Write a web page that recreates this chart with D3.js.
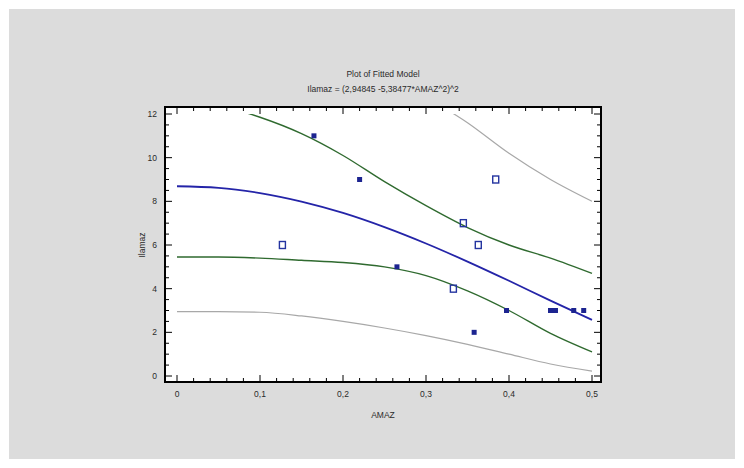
<!DOCTYPE html>
<html>
<head>
<meta charset="utf-8">
<script src="https://cdn.jsdelivr.net/npm/d3@7"></script>
<style>
  body { margin: 0; background: #fff; }
  text { font-family: "Liberation Sans", Arial, sans-serif; fill: #2a2a2a; }
</style>
</head>
<body>
<svg id="chart" width="744" height="468"></svg>
<script>
// curve samples
var xs = [0, 0.05, 0.1, 0.15, 0.2, 0.25, 0.3, 0.35, 0.4, 0.45, 0.5];
var fitted = [8.69, 8.62, 8.38, 7.99, 7.47, 6.82, 6.07, 5.24, 4.36, 3.45, 2.57];
var confUpper = [12.7, 12.4, 11.85, 11.1, 10.1, 8.9, 7.8, 6.8, 6.0, 5.4, 4.7];
var confLower = [5.45, 5.45, 5.4, 5.3, 5.2, 5.0, 4.6, 3.9, 3.0, 1.95, 1.1];
var predUpper = [17.4, 17.2, 16.8, 16.1, 15.2, 14.1, 12.8, 11.6, 10.2, 9.0, 8.0];
var predLower = [2.95, 2.95, 2.92, 2.75, 2.5, 2.2, 1.85, 1.45, 1.0, 0.55, 0.22];

// observations
var openX = [0.127, 0.333, 0.345, 0.363, 0.384];
var openY = [6, 4, 7, 6, 9];
var solidX = [0.165, 0.22, 0.265, 0.358, 0.397, 0.45, 0.456, 0.478, 0.49];
var solidY = [11, 9, 5, 2, 3, 3, 3, 3, 3];

var xTicks = [0, 0.1, 0.2, 0.3, 0.4, 0.5];
var yTicks = [0, 2, 4, 6, 8, 10, 12];

var svg = d3.select("#chart");
var frame = {left: 165, right: 601, top: 107, bottom: 382};

var x = d3.scaleLinear().domain([0, 0.5]).range([177, 592]);
var y = d3.scaleLinear().domain([0, 12]).range([376, 114]);
var fmt = function(d) { return d === 0 ? "0" : d3.format(".1f")(d).replace(".", ","); };

// grey panel with a thin white margin
svg.append("rect")
    .attr("x", 9).attr("y", 9)
    .attr("width", 726).attr("height", 450)
    .attr("fill", "#dcdcdc");

svg.append("text")
    .attr("x", 383).attr("y", 77)
    .attr("text-anchor", "middle")
    .style("font-size", "8.5px")
    .text("Plot of Fitted Model");
svg.append("text")
    .attr("x", 383).attr("y", 92)
    .attr("text-anchor", "middle")
    .style("font-size", "8.5px")
    .text("Ilamaz = (2,94845 -5,38477*AMAZ^2)^2");

// curves are cut at the axis limits, not at the frame
svg.append("clipPath").attr("id", "clip")
  .append("rect")
    .attr("x", x(0) - 4).attr("y", y(12))
    .attr("width", x(0.5) - x(0) + 8)
    .attr("height", y(0) - y(12));

svg.append("rect")
    .attr("x", frame.left).attr("y", frame.top)
    .attr("width", frame.right - frame.left)
    .attr("height", frame.bottom - frame.top)
    .attr("fill", "#fff");

var plot = svg.append("g").attr("clip-path", "url(#clip)");

function curve(vals, color, width) {
  var line = d3.line()
      .x(function(d, i) { return x(xs[i]); })
      .y(function(d) { return y(d); })
      .curve(d3.curveMonotoneX);
  plot.append("path")
      .attr("d", line(vals))
      .attr("fill", "none")
      .attr("stroke", color)
      .attr("stroke-width", width);
}

curve(predUpper, "#a8a8a8", 1.2);
curve(predLower, "#a8a8a8", 1.2);
curve(confUpper, "#2f6a2f", 1.4);
curve(confLower, "#2f6a2f", 1.4);
curve(fitted, "#2424a8", 1.8);

var marks = svg.append("g");

marks.selectAll("rect.open").data(d3.zip(openX, openY))
  .join("rect")
    .classed("open", true)
    .attr("x", function(d) { return x(d[0]) - 3; })
    .attr("y", function(d) { return y(d[1]) - 3.5; })
    .attr("width", 6).attr("height", 7)
    .attr("fill", "none")
    .attr("stroke", "#2434a0")
    .attr("stroke-width", 1.4);

marks.selectAll("rect.solid").data(d3.zip(solidX, solidY))
  .join("rect")
    .classed("solid", true)
    .attr("x", function(d) { return x(d[0]) - 2.5; })
    .attr("y", function(d) { return y(d[1]) - 2.5; })
    .attr("width", 5).attr("height", 5)
    .attr("fill", "#1c2490");

// axes: ticks drawn inward on all four sides
var minorX = d3.range(0, 0.501, 0.02);
var minorY = d3.range(0, 12.01, 0.5);
var ax = svg.append("g").attr("stroke", "#000");

ax.selectAll("line.bx").data(minorX).join("line")
    .attr("x1", x).attr("x2", x)
    .attr("y1", frame.bottom)
    .attr("y2", function(d, i) { return frame.bottom - (i % 5 === 0 ? 7 : 4); });
ax.selectAll("line.tx").data(minorX).join("line")
    .attr("x1", x).attr("x2", x)
    .attr("y1", frame.top)
    .attr("y2", function(d, i) { return frame.top + (i % 5 === 0 ? 7 : 4); });
ax.selectAll("line.ly").data(minorY).join("line")
    .attr("y1", y).attr("y2", y)
    .attr("x1", frame.left)
    .attr("x2", function(d, i) { return frame.left + (i % 4 === 0 ? 7 : 4); });
ax.selectAll("line.ry").data(minorY).join("line")
    .attr("y1", y).attr("y2", y)
    .attr("x1", frame.right)
    .attr("x2", function(d, i) { return frame.right - (i % 4 === 0 ? 7 : 4); });

svg.append("rect")
    .attr("x", frame.left).attr("y", frame.top)
    .attr("width", frame.right - frame.left)
    .attr("height", frame.bottom - frame.top)
    .attr("fill", "none")
    .attr("stroke", "#000")
    .attr("stroke-width", 2);

svg.selectAll("text.xt").data(xTicks).join("text")
    .attr("x", x).attr("y", 397)
    .attr("text-anchor", "middle")
    .style("font-size", "8.5px")
    .text(fmt);
svg.selectAll("text.yt").data(yTicks).join("text")
    .attr("x", 157).attr("y", function(d) { return y(d) + 3; })
    .attr("text-anchor", "end")
    .style("font-size", "8.5px")
    .text(String);

svg.append("text")
    .attr("x", 383).attr("y", 418)
    .attr("text-anchor", "middle")
    .style("font-size", "8.5px")
    .text("AMAZ");
svg.append("text")
    .attr("transform", "translate(145,245) rotate(-90)")
    .attr("text-anchor", "middle")
    .style("font-size", "8.5px")
    .text("Ilamaz");
</script>
</body>
</html>
